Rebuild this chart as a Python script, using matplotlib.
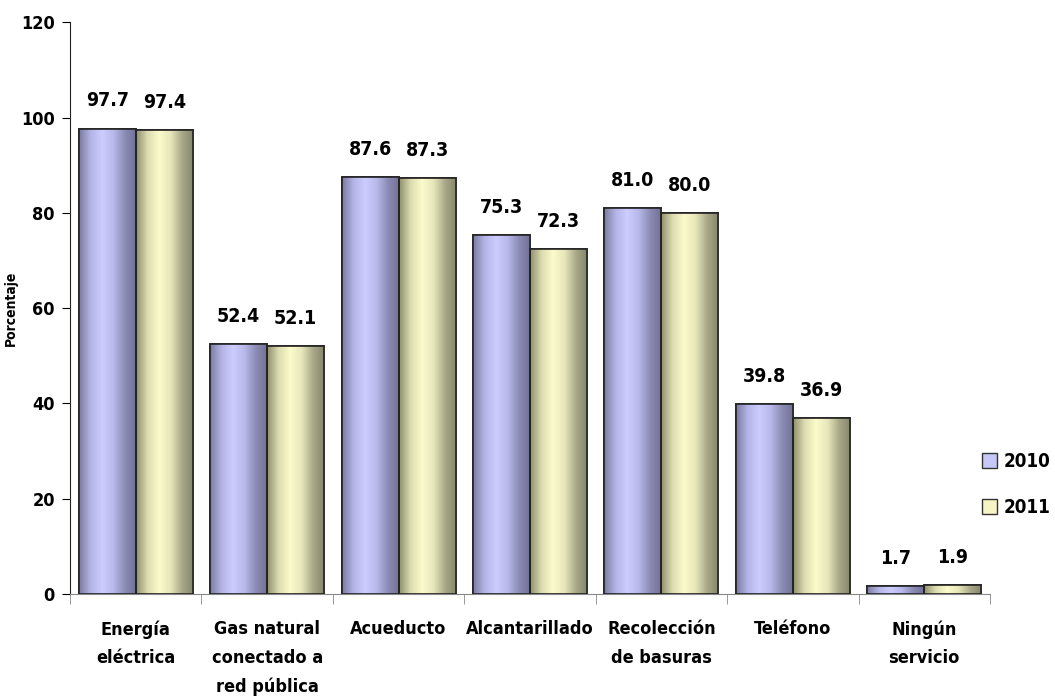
import matplotlib.pyplot as plt
import numpy as np
from matplotlib.patches import Patch
from matplotlib.colors import LinearSegmentedColormap

plt.rcParams['font.family'] = ['DejaVu Sans']
plt.rcParams['font.stretch'] = 'condensed'
plt.rcParams['font.weight'] = 'bold'

categorias = ['Energía\neléctrica', 'Gas natural\nconectado a\nred pública', 'Acueducto',
              'Alcantarillado', 'Recolección\nde basuras', 'Teléfono', 'Ningún\nservicio']
v2010 = [97.7, 52.4, 87.6, 75.3, 81.0, 39.8, 1.7]
v2011 = [97.4, 52.1, 87.3, 72.3, 80.0, 36.9, 1.9]
series = ['2010', '2011']

# colores para el degradado de cada serie (borde oscuro -> centro claro)
grad_2010 = ['#7a7aa0', '#b4b4e6', '#ccccff', '#b8b8ea', '#8a8ab4', '#707096']
grad_2011 = ['#8e8e6c', '#dcdcb0', '#fbfbcc', '#e6e6ba', '#a8a888', '#84846a']

fig = plt.figure(figsize=(10.55, 6.97), dpi=100)
ax = fig.add_axes([0.0664, 0.148, 0.872, 0.820])

x = np.arange(len(categorias))
w = 0.434
b1 = ax.bar(x - w / 2, v2010, w, color='#c0c0f0', edgecolor='#222222', linewidth=1.2, zorder=2)
b2 = ax.bar(x + w / 2, v2011, w, color='#f0f0c0', edgecolor='#222222', linewidth=1.2, zorder=2)

grad = np.linspace(0, 1, 256).reshape(1, -1)
for bars, cols in [(b1, grad_2010), (b2, grad_2011)]:
    cmap = LinearSegmentedColormap.from_list('g', cols)
    for bar in bars:
        x0, y0 = bar.get_x(), bar.get_y()
        im = ax.imshow(grad, cmap=cmap, aspect='auto', zorder=2.5,
                       extent=(x0, x0 + bar.get_width(), y0, y0 + bar.get_height()))
        im.set_clip_path(bar)
        edge = plt.Rectangle((x0, y0), bar.get_width(), bar.get_height(), fill=False,
                             edgecolor='#222222', linewidth=1.2, zorder=3)
        ax.add_patch(edge)

for bars, vals in [(b1, v2010), (b2, v2011)]:
    for bar, v in zip(bars, vals):
        ax.annotate(f'{v:.1f}', (bar.get_x() + bar.get_width() / 2, v),
                    xytext=(0, 13), textcoords='offset points', ha='center', va='bottom',
                    fontsize=14, fontweight='bold')

ax.set_xlim(-0.5, len(categorias) - 0.5)
ax.set_ylim(0, 120)
ax.set_yticks(range(0, 121, 20))
ax.set_xticks(x)
ax.set_xticklabels(categorias, fontsize=13, fontweight='bold', linespacing=1.75)
ax.tick_params(axis='x', length=0, pad=19)
ax.set_xticks(np.arange(-0.5, len(categorias), 1), minor=True)
ax.tick_params(axis='x', which='minor', length=7, color='#888888')
ax.tick_params(axis='y', labelsize=13, length=6, direction='out', pad=5)
for lab in ax.get_yticklabels():
    lab.set_fontweight('bold')
ax.set_ylabel('Porcentaje', fontsize=10, fontweight='bold')
ax.yaxis.set_label_coords(-0.0565, 0.5)

ax.spines['top'].set_visible(False)
ax.spines['right'].set_visible(False)
ax.spines['left'].set_color('#222222')
ax.spines['bottom'].set_color('#888888')

handles = [Patch(facecolor='#c8c8f8', edgecolor='#333333', label=series[0]),
           Patch(facecolor='#f4f4c4', edgecolor='#333333', label=series[1])]
fig.legend(handles=handles, loc='center left', bbox_to_anchor=(0.931, 0.305),
           frameon=False, fontsize=13.5, handlelength=0.8, handleheight=0.85,
           handletextpad=0.35, labelspacing=1.4, borderaxespad=0, borderpad=0)

fig.savefig('out.png', dpi=100)
